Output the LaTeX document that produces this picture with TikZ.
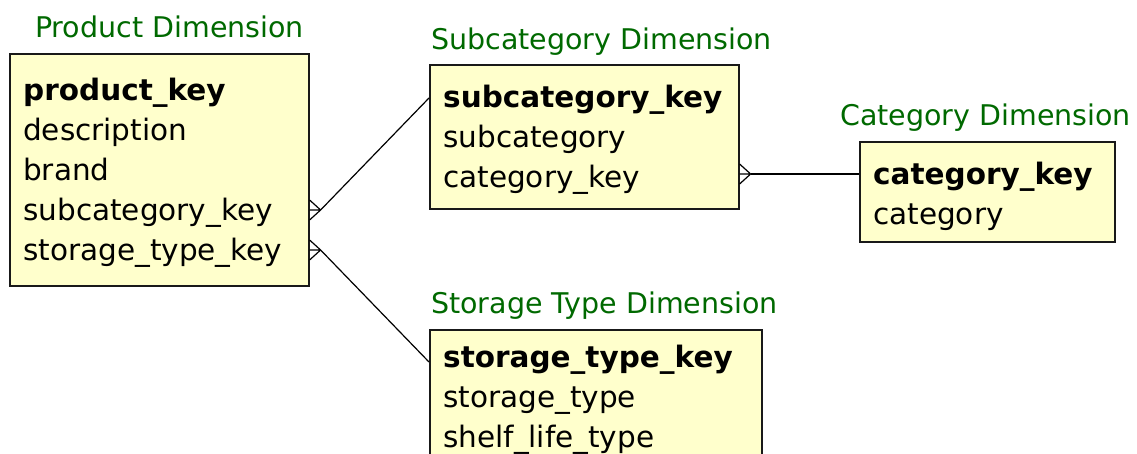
\documentclass[tikz,border=0pt]{standalone}
\usepackage{fontspec}
\setmainfont{DejaVu Sans}
\usepackage{xcolor}
\usepackage{tikz}
\definecolor{dimgreen}{RGB}{0,105,0}
\definecolor{dimfill}{RGB}{255,255,204}
\tikzset{
  dimbox/.style={draw=black!90,fill=dimfill,line width=1.6pt,inner sep=0pt,anchor=north west},
  dimtitle/.style={dimgreen,anchor=base west,inner sep=0pt,font=\fontsize{28.5}{34}\selectfont},
  field/.style={anchor=base west,inner sep=0pt},
  link/.style={line width=1.2pt},
}
\newcommand{\crowfoot}[1]{\draw[link] (#1) -- +(-11,-10) (#1) -- +(-11,0) (#1) -- +(-11,10);}

\begin{document}
\begin{tikzpicture}[x=1pt,y=-1pt,font=\fontsize{29.5}{35}\selectfont]
                \clip (0,0) rectangle (1137,454);

                \node[dimbox,minimum width=299pt,minimum height=232pt] (prod) at (9,53) {};
                \node[dimtitle] (prodtitle) at (35,38) {Product Dimension};
                \node[field] (pkey) at (23,101) {\bfseries product\_key};
                \node[field] (pdesc) at (23,141) {description};
                \node[field] (pbrand) at (23,181) {brand};
                \node[field] (psub) at (23,221) {subcategory\_key};
                \node[field] (pstor) at (23,261) {storage\_type\_key};

                \node[dimbox,minimum width=309pt,minimum height=144pt] (sub) at (429,64) {};
                \node[dimtitle] (subtitle) at (431,50) {Subcategory Dimension};
                \node[field] (skey) at (443,108) {\bfseries subcategory\_key};
                \node[field] (sname) at (443,148) {subcategory};
                \node[field] (scat) at (443,188) {category\_key};

                \node[dimbox,minimum width=255pt,minimum height=100pt] (cat) at (859,141) {};
                \node[dimtitle] (cattitle) at (840,126) {Category Dimension};
                \node[field] (ckey) at (873,185) {\bfseries category\_key};
                \node[field] (cname) at (873,225) {category};

                \node[dimbox,minimum width=332pt,minimum height=140pt] (stor) at (429,329) {};
                \node[dimtitle] (stortitle) at (431,313) {Storage Type Dimension};
                \node[field] (tkey) at (443,367) {\bfseries storage\_type\_key};
                \node[field] (ttype) at (443,407) {storage\_type};
                \node[field] (tshelf) at (443,447) {shelf\_life\_type};

                \path (psub.base -| prod.east) ++(11,-11) coordinate (j1);
                \path (sub.north west) ++(0,34) coordinate (t1);
                \draw[link] (j1) -- (t1);
                \crowfoot{j1}

                \path (pstor.base -| prod.east) ++(11,-11) coordinate (j2);
                \path (stor.north west) ++(0,33) coordinate (t2);
                \draw[link] (j2) -- (t2);
                \crowfoot{j2}

                \path (cat.north west) ++(0,33) coordinate (t3);
                \path (sub.east |- t3) ++(11,0) coordinate (j3);
                \draw[link] (j3) -- (t3);
                \crowfoot{j3}
\end{tikzpicture}
\end{document}
